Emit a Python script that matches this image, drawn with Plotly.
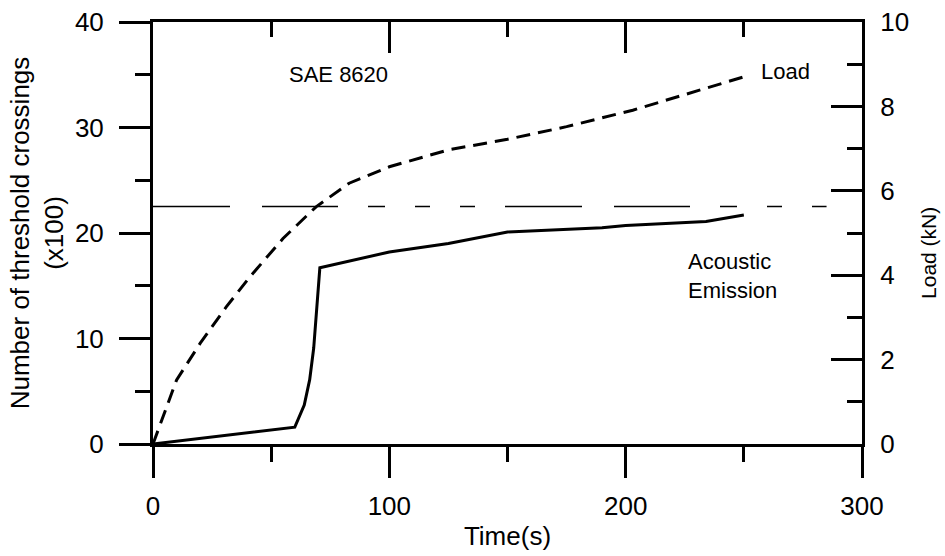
import plotly.graph_objects as go

# ---- data ----
time_ae = [0, 60, 64, 66.3, 68, 70.6, 100, 125, 150, 190, 200, 234, 250]
ae_counts = [0, 1.6, 3.7, 6.1, 9.1, 16.7, 18.2, 19.0, 20.1, 20.5, 20.7, 21.1, 21.7]

time_load = [0, 10, 20, 31, 41, 55, 69, 83, 100, 125, 150, 175, 203, 231, 250]
load_kn = [0, 1.52, 2.39, 3.25, 3.96, 4.87, 5.62, 6.18, 6.57, 6.97, 7.22, 7.52, 7.91, 8.39, 8.70]

threshold_t = [0, 285]
threshold_y = [22.5, 22.5]

x_ticks = [0, 100, 200, 300]
y_left_ticks = [0, 10, 20, 30, 40]
y_right_ticks = [0, 2, 4, 6, 8, 10]

FONT = "Liberation Sans, Arial, sans-serif"
BLACK = "black"

fig = go.Figure()
fig.add_trace(go.Scatter(x=time_ae, y=ae_counts, mode="lines",
                         line=dict(color=BLACK, width=3),
                         xaxis="x", yaxis="y", showlegend=False, name="Acoustic Emission"))
fig.add_trace(go.Scatter(x=threshold_t, y=threshold_y, mode="lines",
                         line=dict(color=BLACK, width=1.5,
                                   dash="77px,32px,76px,30px,17px,30px,15px,30px,15px,30px"),
                         xaxis="x2", yaxis="y", showlegend=False, name="Threshold"))
fig.add_trace(go.Scatter(x=time_load, y=load_kn, mode="lines",
                         line=dict(color=BLACK, width=3, dash="14px,8px"),
                         xaxis="x", yaxis="y2", showlegend=False, name="Load"))

common = dict(showgrid=False, zeroline=False, showline=True, linecolor=BLACK,
              linewidth=3, tickcolor=BLACK, tickwidth=3, ticklen=31, automargin=False,
              tickfont=dict(family=FONT, size=26, color=BLACK))

fig.update_layout(
    width=945, height=556,
    margin=dict(l=153, r=83, t=22, b=112),
    paper_bgcolor="white", plot_bgcolor="white",
    font=dict(family=FONT, color=BLACK),
    xaxis=dict(range=[0, 300], tickmode="array", tickvals=x_ticks, ticks="outside",
               minor=dict(dtick=50, tick0=0, ticks="outside", ticklen=15, tickwidth=3, tickcolor=BLACK),
               ticklabelstandoff=6,
               title=dict(text="Time(s)", font=dict(family=FONT, size=26, color=BLACK), standoff=7),
               anchor="y", **common),
    xaxis2=dict(range=[0, 300], overlaying="x", side="top", anchor="y",
                tickmode="array", tickvals=x_ticks, ticks="inside", showticklabels=False,
                minor=dict(dtick=50, tick0=0, ticks="inside", ticklen=15, tickwidth=3, tickcolor=BLACK),
                **common),
    yaxis=dict(range=[0, 40], tickmode="array", tickvals=y_left_ticks, ticks="outside",
               minor=dict(dtick=5, tick0=0, ticks="outside", ticklen=15, tickwidth=3, tickcolor=BLACK),
               ticklabelstandoff=10,
               title=dict(text="Number of threshold crossings<br>(x100)",
                          font=dict(family=FONT, size=26, color=BLACK), standoff=4),
               anchor="x", **common),
    yaxis2=dict(range=[0, 10], overlaying="y", side="right", anchor="x",
                tickmode="array", tickvals=y_right_ticks, ticks="inside",
                minor=dict(dtick=1, tick0=0, ticks="inside", ticklen=15, tickwidth=3, tickcolor=BLACK),
                ticklabelstandoff=10,
                **common),
    annotations=[
        dict(text="SAE 8620", x=56.5, y=35, xref="x", yref="y", xanchor="left", yanchor="middle",
             showarrow=False, font=dict(family=FONT, size=22, color=BLACK)),
        dict(text="Load", x=256.4, y=35.3, xref="x", yref="y", xanchor="left", yanchor="middle",
             showarrow=False, font=dict(family=FONT, size=22, color=BLACK)),
        dict(text="Acoustic<br>Emission", x=225.6, y=15.9, xref="x", yref="y", xanchor="left",
             yanchor="middle", align="left", showarrow=False,
             font=dict(family=FONT, size=22, color=BLACK)),
        dict(text="Load (kN)", x=1.093, y=0.4526, xref="paper", yref="paper",
             xanchor="center", yanchor="middle", textangle=-90, showarrow=False,
             font=dict(family=FONT, size=21, color=BLACK)),
    ],
)

fig.write_html("out.html")
